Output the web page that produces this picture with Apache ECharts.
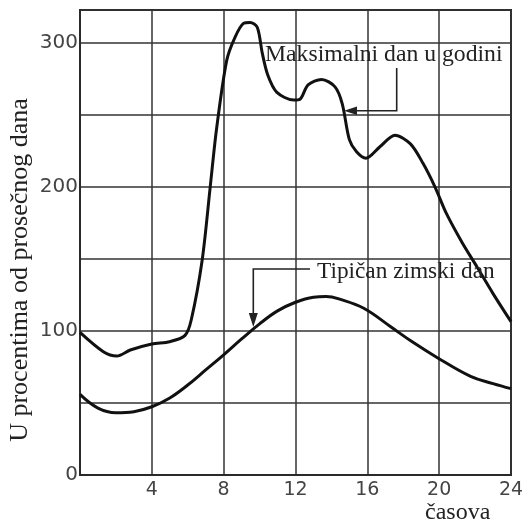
<!DOCTYPE html>
<html>
<head>
<meta charset="utf-8">
<script src="https://cdn.jsdelivr.net/npm/echarts@6/dist/echarts.min.js"></script>
<style>html,body{margin:0;padding:0;background:#fff;}#c{width:528px;height:524px;}</style>
</head>
<body>
<div id="c"></div>
<script>
// Data
var maxDayHours = [0, 1.3, 2.05, 2.8, 4, 5, 5.85, 6.2, 6.8, 7.25, 7.6, 8.17, 8.63, 9.1, 9.47, 9.87, 10.15, 10.45, 10.95, 11.9, 12.25, 12.7, 13.45, 14.2, 14.6, 15.0, 15.4, 15.92, 16.7, 17.54, 18.4, 19.1, 19.77, 20.4, 21.3, 22.1, 23, 24];
var maxDayValues = [99, 85.6, 82.6, 86.8, 91, 92.6, 97, 108, 149, 200, 240, 288, 304, 313.7, 314.4, 311, 293, 278, 266, 260.4, 261, 271, 274.8, 269.6, 258, 233, 224.5, 220, 228, 236, 230, 216.5, 200, 181.7, 161, 144.7, 126, 106.5];
var winterHours = [0, 1, 2, 3, 4, 5, 6, 7, 8, 9, 10, 11, 12, 13, 13.7, 14.5, 15.8, 17.3, 18.5, 19.9, 21.75, 23, 24];
var winterValues = [56, 46.5, 43.3, 44, 47.4, 53.5, 62.5, 73, 83.5, 94.5, 105, 114, 120, 123.5, 124, 122, 115.8, 103, 92.5, 81.5, 68.5, 63.5, 60];
var xTicks = [0, 4, 8, 12, 16, 20, 24];
var yTickLabels = [0, 100, 200, 300];
var seriesNames = ['Maksimalni dan u godini', 'Tipičan zimski dan'];
var yTitle = 'U procentima od prosečnog dana';
var xTitle = 'časova';

function pairs(xs, ys) { return xs.map(function (x, i) { return [x, ys[i]]; }); }

var chart = echarts.init(document.getElementById('c'), null, {renderer: 'canvas'});
var serifFont = '"Liberation Serif", "Times New Roman", serif';
var sansFont = '"DejaVu Sans", sans-serif';

var option = {
  animation: false,
  backgroundColor: '#fff',
  grid: {left: 80, right: 17, top: 10, bottom: 49, show: true, borderColor: '#2a2a2a', borderWidth: 2, backgroundColor: 'transparent'},
  xAxis: {
    type: 'value', min: xTicks[0], max: xTicks[xTicks.length - 1], interval: 4,
    axisLine: {show: true, lineStyle: {color: '#2a2a2a', width: 2}},
    axisTick: {show: false},
    splitLine: {show: true, lineStyle: {color: '#333', width: 1.5}},
    axisLabel: {
      margin: 6, color: '#444', fontFamily: sansFont, fontSize: 19,
      formatter: function (v) { return (v !== 0 && xTicks.indexOf(v) >= 0) ? String(v) : ''; }
    }
  },
  yAxis: {
    type: 'value', min: 0, max: 323, interval: 50,
    axisLine: {show: true, lineStyle: {color: '#2a2a2a', width: 2}},
    axisTick: {show: false},
    splitLine: {show: true, lineStyle: {color: '#333', width: 1.5}},
    axisLabel: {
      margin: 2, color: '#444', fontFamily: sansFont, fontSize: 20,
      formatter: function (v) { return yTickLabels.indexOf(v) >= 0 ? String(v) : ''; }
    }
  },
  series: [
    {name: seriesNames[0], type: 'line', data: pairs(maxDayHours, maxDayValues), smooth: 0.3, showSymbol: false, symbol: 'none',
     lineStyle: {color: '#111', width: 3}, z: 5},
    {name: seriesNames[1], type: 'line', data: pairs(winterHours, winterValues), smooth: 0.4, showSymbol: false, symbol: 'none',
     lineStyle: {color: '#111', width: 3}, z: 5}
  ],
  graphic: [
    {type: 'text', x: 20, y: 270, rotation: Math.PI / 2, z: 10,
     style: {text: yTitle, font: '26px ' + serifFont, fill: '#222', align: 'center', verticalAlign: 'middle'}},
    {type: 'text', x: 425, y: 513, z: 10,
     style: {text: xTitle, font: '24px ' + serifFont, fill: '#222', align: 'left', verticalAlign: 'middle'}},
    {type: 'text', x: 265, y: 55, z: 10,
     style: {text: seriesNames[0], font: '23.7px ' + serifFont, fill: '#222', align: 'left', verticalAlign: 'middle'}},
    {type: 'text', x: 317, y: 272, z: 10,
     style: {text: seriesNames[1], font: '23.3px ' + serifFont, fill: '#222', align: 'left', verticalAlign: 'middle'}},
    {type: 'polyline', z: 10, shape: {points: [[396.7, 68], [396.7, 110.7], [355, 110.7]]},
     style: {stroke: '#222', lineWidth: 1.6, fill: null}},
    {type: 'polygon', z: 10, shape: {points: [[344, 110.7], [357, 106.5], [357, 114.9]]},
     style: {fill: '#222'}},
    {type: 'polyline', z: 10, shape: {points: [[310, 269], [253.3, 269], [253.3, 314]]},
     style: {stroke: '#222', lineWidth: 1.6, fill: null}},
    {type: 'polygon', z: 10, shape: {points: [[253.3, 327], [248.8, 313], [257.8, 313]]},
     style: {fill: '#222'}}
  ]
};
chart.setOption(option);
</script>
</body>
</html>
